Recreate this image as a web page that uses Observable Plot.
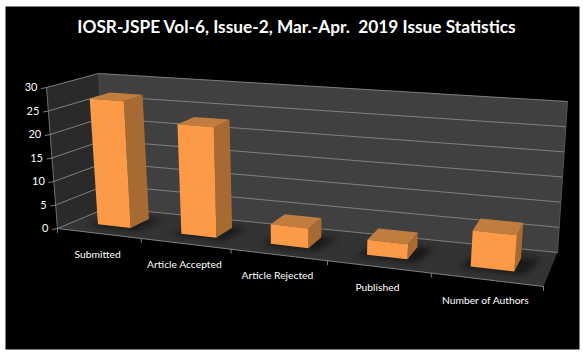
<!DOCTYPE html>
<html><head><meta charset="utf-8">
<script src="https://cdn.jsdelivr.net/npm/d3@7"></script>
<script src="https://cdn.jsdelivr.net/npm/@observablehq/plot@0.6"></script>
<style>html,body{margin:0;padding:0;background:#fff}svg{display:block}</style>
</head><body><div id="chart"></div>
<script>
const chartTitle = "IOSR-JSPE Vol-6, Issue-2, Mar.-Apr.  2019 Issue Statistics";
const categories = ["Submitted","Article Accepted","Article Rejected","Published","Number of Authors"];
const values = [27,23,4,3,7];
const yTicks = [0,5,10,15,20,25,30];

// view of the 3D box: page position of its eight corners
const view = {k:1.2, fl0:[57,228], fr0:[543,286], bl0:[107,207], br0:[557,252],
              flT:[46,87], frT:[557,126], blT:[98,73], brT:[567,101]};
const lerp=(a,b,t)=>[a[0]+(b[0]-a[0])*t,a[1]+(b[1]-a[1])*t];
function P(u,v,w){
  const s=u/(u+view.k*(1-u)), h=v/30;
  const bottom=lerp(lerp(view.fl0,view.fr0,s),lerp(view.bl0,view.br0,s),w);
  const top=lerp(lerp(view.flT,view.frT,s),lerp(view.blT,view.brT,s),w);
  return lerp(bottom,top,h);
}
const poly=(pts,fill,extra={})=>Plot.line(pts,{x:d=>d[0],y:d=>d[1],fill,stroke:"none",curve:"linear-closed",...extra});
const seg=(pts,stroke,w=1)=>Plot.line(pts,{x:d=>d[0],y:d=>d[1],stroke,strokeWidth:w,curve:"linear"});

const n=categories.length, halfW=0.04, w0=0.33, w1=0.73;
const marks=[];
// panel
marks.push(poly([[5,6],[579,6],[579,349],[5,349]],"#000"));
// walls and floor
marks.push(poly([P(0,0,0),P(0,30,0),P(0,30,1),P(0,0,1)],"#2a2a2a"));
marks.push(poly([P(0,0,1),P(0,30,1),P(1,30,1),P(1,0,1)],"#404040"));
marks.push(poly([P(0,0,0),P(0,0,1),P(1,0,1),P(1,0,0)],"#333333"));
// gridlines
for(const t of yTicks){
  marks.push(seg([P(0,t,0),P(0,t,1),P(1,t,1)],"#808080",1));
}
marks.push(seg([P(0,0,0),P(0,30,0)],"#707070"));
marks.push(seg([P(0,30,1),P(0,0,1)],"#4a4a4a"));
marks.push(seg([P(1,30,1),P(1,0,1)],"#555"));
marks.push(seg([P(0,0,0),P(1,0,0)],"#808080"));
// ticks
yTicks.forEach(t=>{const p=P(0,t,0);marks.push(seg([p,[p[0]-5,p[1]+1]],"#808080"));});
d3.range(n+1).forEach(i=>{const p=P(i/n,0,0);marks.push(seg([p,[p[0],p[1]+4]],"#808080"));});
// bars
values.forEach((v,i)=>{
  const c=(i+.5)/n,u0=c-halfW,u1=c+halfW;
  marks.push(poly([P(u0-.02,0,w0-.07),P(u1+.02,0,w0-.07),P(u1+.035,0,w1+.02),P(u0,0,w1+.02)],"#191919",{imageFilter:"blur(3px)"}));
  marks.push(poly([P(u1,0,w0),P(u1,v,w0),P(u1,v,w1),P(u1,0,w1)],"#a86a33"));
  marks.push(poly([P(u0,v,w0),P(u1,v,w0),P(u1,v,w1),P(u0,v,w1)],"#c07d3e"));
  marks.push(poly([P(u0,0,w0),P(u1,0,w0),P(u1,v,w0),P(u0,v,w0)],"#fd9a47"));
});
const font="Lato, 'Open Sans', sans-serif";
marks.push(Plot.text(yTicks,{x:t=>P(0,t,0)[0]-9,y:t=>P(0,t,0)[1],text:t=>String(t),textAnchor:"end",fill:"#fff",fontSize:11,fontFamily:font}));
marks.push(Plot.text(categories,{x:(d,i)=>P((i+.5)/n,0,0)[0]-1,y:(d,i)=>P((i+.5)/n,0,0)[1]+21,text:d=>d,fill:"#fff",fontSize:10.3,fontFamily:font}));
marks.push(Plot.text([chartTitle],{x:()=>296,y:()=>27,text:d=>d,fill:"#fff",fontSize:17.3,fontWeight:"bold",fontFamily:font}));

document.getElementById("chart").append(Plot.plot({
  width:583,height:354,margin:0,
  x:{domain:[0,583],range:[0,583],axis:null},
  y:{domain:[0,354],range:[0,354],axis:null},
  style:{background:"#fff"},
  marks
}));
</script></body></html>
